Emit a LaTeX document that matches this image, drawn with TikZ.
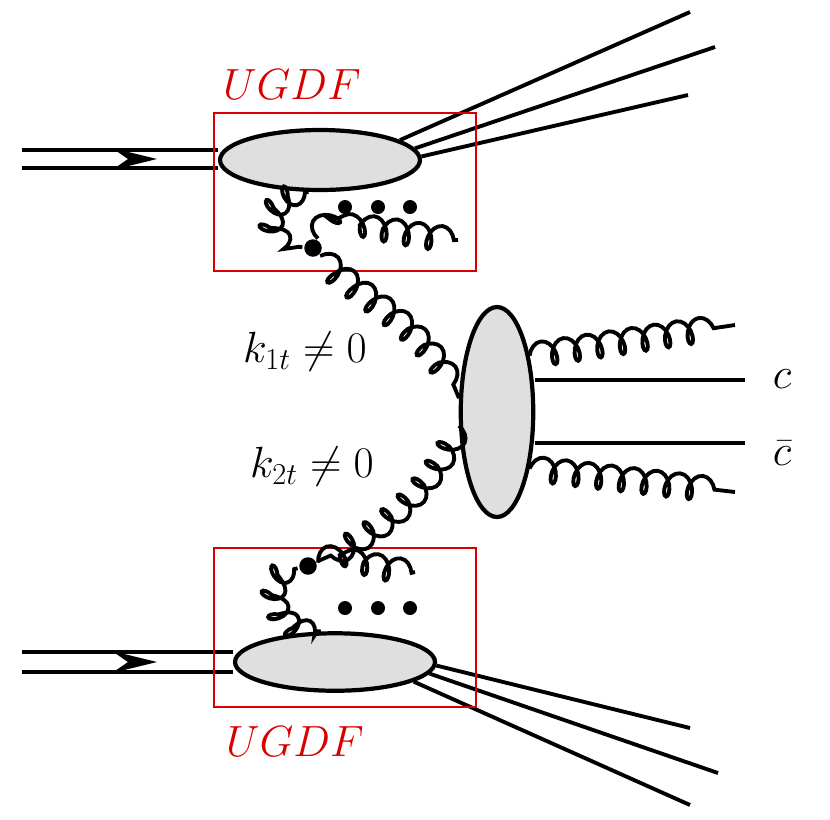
\documentclass[tikz,border=0pt]{standalone}
\usetikzlibrary{shapes.geometric,decorations.pathmorphing}
\begin{document}
\begin{tikzpicture}[x=0.02cm,y=-0.02cm,line width=2.2pt,
	blob/.style={ellipse,draw,fill=gray!25,line width=2.4pt,inner sep=0pt},
	gluon/.style={decorate,decoration={coil,amplitude=7pt,segment length=13pt,aspect=0.6}},
	short gluon/.style={decorate,decoration={coil,amplitude=6pt,segment length=10pt,aspect=0.6,pre length=2pt,post length=2pt}},
	ugdf/.style={draw=red!85!black,line width=0.8pt},
	lab/.style={font=\fontsize{26}{28}\selectfont},
	dot/.style={circle,fill,inner sep=0pt,minimum size=0.35cm}]
\useasboundingbox (0,0) rectangle (830,819);

% proton lines
\node[blob,minimum width=4cm,minimum height=1.2cm] (top) at (320,160) {};
\node[blob,minimum width=4cm,minimum height=1.15cm] (bot) at (335,662) {};
\node[blob,minimum width=1.45cm,minimum height=4.2cm] (hard) at (497,412) {};
\foreach \y/\n in {150/a,168/b,652/c,672/d} {
  \coordinate (in\n) at (22,\y);
}
\draw (ina) -- (top.west |- ina);
\draw (inb) -- (top.west |- inb);
\draw (inc) -- (bot.west |- inc);
\draw (ind) -- (bot.west |- ind);
\foreach \y in {159,662} {
  \fill (112,\y-11) -- (157,\y) -- (112,\y+11) -- (128,\y) -- cycle;
}

% remnants
\coordinate (r1) at (690,12); \coordinate (r2) at (715,47); \coordinate (r3) at (688,95);
\coordinate (r4) at (690,728); \coordinate (r5) at (718,773); \coordinate (r6) at (690,805);
\draw (top.14) -- (r1); \draw (top.7) -- (r2); \draw (top.2) -- (r3);
\draw (bot.-2) -- (r4); \draw (bot.-7) -- (r5); \draw (bot.-14) -- (r6);

% UGDF boxes
\draw[ugdf] (214,113) rectangle (476,271);
\draw[ugdf] (214,548) rectangle (476,707);
\node[lab,text=red!85!black] (u1) at (292,85) {$UGDF$};
\node[lab,text=red!85!black] (u2) at (295,742) {$UGDF$};

% gluons
\node[dot] (v1) at (313,248) {};
\node[dot] (v2) at (308,566) {};
\draw[short gluon] (top.250) .. controls (260,200) and (270,245) .. (v1);
\draw[gluon] (v1) .. controls (330,215) and (400,235) .. (458,240);
\draw[gluon] (v1) .. controls (360,300) and (420,320) .. (hard.160);
\draw[gluon] (hard.200) .. controls (420,510) and (360,540) .. (v2);
\draw[gluon] (v2) .. controls (340,555) and (380,570) .. (415,572);
\draw[short gluon] (v2) .. controls (265,575) and (270,630) .. (bot.115);
\coordinate (g1) at (735,325); \coordinate (g2) at (735,492);
\draw[gluon] (hard.60) -- (g1);
\draw[gluon] (hard.-60) -- (g2);
\foreach \x in {345,378,410} {
  \fill (\x,207) circle (0.14cm);
  \fill (\x,608) circle (0.14cm);
}

% quarks
\coordinate (q1) at (745,380); \coordinate (q2) at (745,443);
\draw (hard.east |- q1) -- (q1);
\draw (hard.east |- q2) -- (q2);
\node[lab,inner sep=1pt] (c) at (782,379) {$c$};
\node[lab,inner sep=1pt] (cb) at (782,453) {$\bar c$};
\node[lab] (k1) at (305,352) {$k_{1t}\neq 0$};
\node[lab] (k2) at (312,467) {$k_{2t}\neq 0$};
\end{tikzpicture}
\end{document}
